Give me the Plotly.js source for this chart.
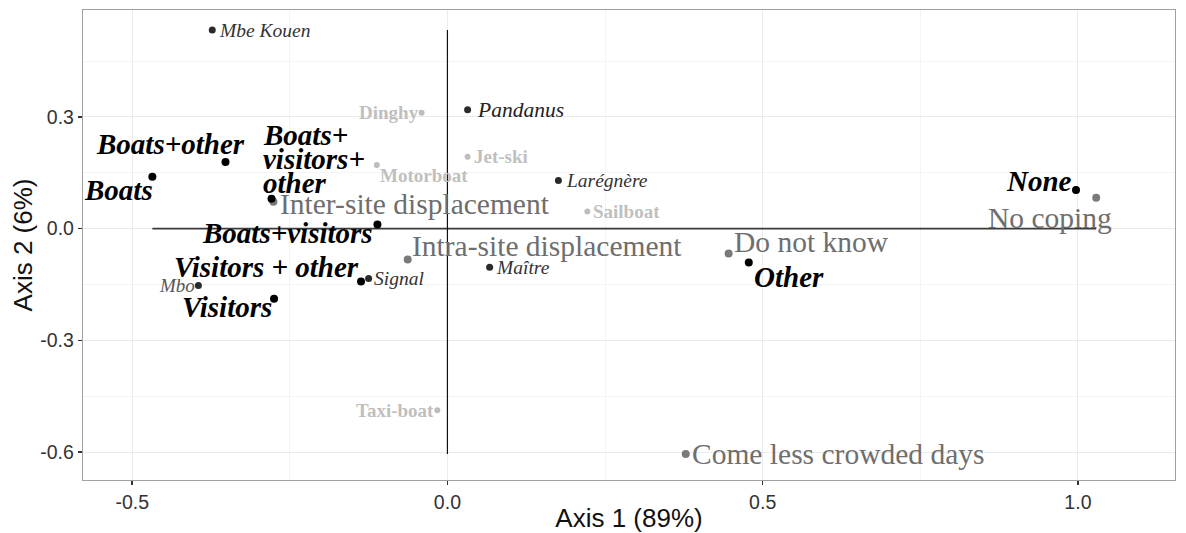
<!DOCTYPE html>
<html>
<head>
<meta charset="utf-8">
<script src="https://cdn.plot.ly/plotly-3.0.1.min.js"></script>
<style>html,body{margin:0;padding:0;background:#fff;}#chart{width:1186px;height:533px;}</style>
</head>
<body>
<div id="chart"></div>
<script>
// ---- Data ----
const sites = ["Mbe Kouen", "Pandanus", "Larégnère", "Maître", "Signal", "Mbo"];
const siteX = [-0.373, 0.032, 0.176, 0.067, -0.125, -0.395];
const siteY = [0.533, 0.319, 0.129, -0.104, -0.134, -0.153];

const boats = ["Dinghy", "Motorboat", "Jet-ski", "Sailboat", "Taxi-boat"];
const boatX = [-0.041, -0.112, 0.032, 0.222, -0.016];
const boatY = [0.311, 0.171, 0.193, 0.046, -0.488];

const threats = ["Boats", "Boats+other", "Boats+<br>visitors+<br>other", "Boats+visitors", "Visitors + other", "Visitors", "None", "Other"];
const threatX = [-0.468, -0.352, -0.279, -0.111, -0.137, -0.275, 0.997, 0.478];
const threatY = [0.139, 0.179, 0.080, 0.011, -0.142, -0.188, 0.104, -0.091];

const coping = ["Inter-site displacement", "Intra-site displacement", "Do not know", "No coping", "Come less crowded days"];
const copingX = [-0.276, -0.063, 0.446, 1.029, 0.378];
const copingY = [0.072, -0.083, -0.067, 0.083, -0.605];

const xTicks = [-0.5, 0.0, 0.5, 1.0];
const xTickText = ["-0.5", "0.0", "0.5", "1.0"];
const yTicks = [-0.6, -0.3, 0.0, 0.3];
const yTickText = ["-0.6", "-0.3", "0.0", "0.3"];

// ---- Label placement (pixel offsets, styling) ----
const sitePos = [
  {xa: "left", dx: 6, dy: 0}, {xa: "left", dx: 8, dy: 0}, {xa: "left", dx: 7, dy: 0},
  {xa: "left", dx: 5, dy: 0}, {xa: "left", dx: 4, dy: 0}, {xa: "right", dx: -2, dy: 0}
];
const siteSize = [19.5, 21.5, 19.5, 19.5, 19.5, 19];
const siteColor = ["#333", "#222", "#333", "#333", "#333", "#555"];
const boatPos = [
  {xa: "right", dx: -2, dy: 0}, {xa: "left", dx: 2, dy: -11}, {xa: "left", dx: 5, dy: 0},
  {xa: "left", dx: 5, dy: 0}, {xa: "right", dx: -2, dy: 0}
];
const threatPos = [
  {xa: "right", dx: 2, dy: -13},
  {xa: "right", dx: 21, dy: 18},
  {xa: "left", dx: -10, dy: 64, lineGap: 24},
  {xa: "right", dx: -3, dy: -8},
  {xa: "right", dx: -1, dy: 15},
  {xa: "right", dx: -1, dy: -8},
  {xa: "right", dx: -3, dy: 9},
  {xa: "left", dx: 4, dy: -14}
];
const copingPos = [
  {xa: "left", dx: 6, dy: -2}, {xa: "left", dx: 3, dy: 14}, {xa: "left", dx: 4, dy: 12},
  {xa: "right", dx: 17, dy: -20}, {xa: "left", dx: 5, dy: 0}
];

const SERIF = "Liberation Serif, Times New Roman, serif";
const SANS = "Liberation Sans, Arial, sans-serif";

const annotations = [];
function addLabels(names, xs, ys, pos, fontFn) {
  names.forEach((n, i) => {
    const lines = n.split("<br>");
    lines.forEach((line, k) => {
      annotations.push({
        x: xs[i], y: ys[i], xref: "x", yref: "y", text: line, showarrow: false,
        xanchor: pos[i].xa, yanchor: "middle",
        xshift: pos[i].dx, yshift: pos[i].dy - k * (pos[i].lineGap || 0), align: "left",
        font: fontFn(i), borderpad: 0
      });
    });
  });
}
addLabels(sites, siteX, siteY, sitePos, i => ({family: SERIF, size: siteSize[i], color: siteColor[i], style: "italic"}));
addLabels(boats, boatX, boatY, boatPos, i => ({family: SERIF, size: 19, color: "#bfbfbf", weight: "bold"}));
addLabels(threats, threatX, threatY, threatPos, i => ({family: SERIF, size: 29, color: "#000", weight: "bold", style: "italic"}));
addLabels(coping, copingX, copingY, copingPos, i => ({family: SERIF, size: 29.5, color: "#6e6e6e"}));

// reference axes through origin spanning the data extent
const allX = siteX.concat(boatX, threatX, copingX);
const allY = siteY.concat(boatY, threatY, copingY);
const shapes = [
  {type: "line", xref: "x", yref: "y", x0: Math.min(...allX), x1: Math.max(...allX), y0: 0, y1: 0, line: {color: "#3a3a3a", width: 1.8}, layer: "between"},
  {type: "line", xref: "x", yref: "y", x0: 0, x1: 0, y0: Math.min(...allY), y1: Math.max(...allY), line: {color: "#111", width: 1.2}, layer: "between"}
];

const traces = [
  {x: siteX, y: siteY, mode: "markers", type: "scatter", marker: {color: "#2a2a2a", size: 7}, hoverinfo: "skip"},
  {x: boatX, y: boatY, mode: "markers", type: "scatter", marker: {color: "#bdbdbd", size: 6}, hoverinfo: "skip"},
  {x: copingX, y: copingY, mode: "markers", type: "scatter", marker: {color: "#7a7a7a", size: 8}, hoverinfo: "skip"},
  {x: threatX, y: threatY, mode: "markers", type: "scatter", marker: {color: "#000", size: 8}, hoverinfo: "skip"}
];

const layout = {
  width: 1186, height: 533,
  margin: {l: 83, r: 11, t: 10, b: 53},
  paper_bgcolor: "#fff", plot_bgcolor: "#fff",
  showlegend: false,
  xaxis: {
    range: [-0.578, 1.154], tickvals: xTicks, ticktext: xTickText,
    ticks: "outside", ticklen: 4, tickcolor: "#333", tickwidth: 1.5,
    tickfont: {family: SANS, size: 19.5, color: "#333"},
    showgrid: true, gridcolor: "#ebebeb", gridwidth: 1,
    minor: {showgrid: true, gridcolor: "#f4f4f4", gridwidth: 1, dtick: 0.25, tick0: -0.25},
    zeroline: false, showline: true, mirror: true, linecolor: "#a0a0a0", linewidth: 1.2,
    title: {text: "Axis 1 (89%)", font: {family: SANS, size: 26, color: "#111"}, standoff: 2}
  },
  yaxis: {
    range: [-0.675, 0.587], tickvals: yTicks, ticktext: yTickText,
    ticks: "outside", ticklen: 4, tickcolor: "#333", tickwidth: 1.5,
    tickfont: {family: SANS, size: 19.5, color: "#333"},
    showgrid: true, gridcolor: "#ebebeb", gridwidth: 1,
    minor: {showgrid: true, gridcolor: "#f4f4f4", gridwidth: 1, dtick: 0.15, tick0: -0.45},
    zeroline: false, showline: true, mirror: true, linecolor: "#a0a0a0", linewidth: 1.2,
    title: {text: "Axis 2 (6%)", font: {family: SANS, size: 26, color: "#111"}, standoff: 0}
  },
  shapes: shapes,
  annotations: annotations
};

Plotly.newPlot("chart", traces, layout, {staticPlot: true, displayModeBar: false});
</script>
</body>
</html>
